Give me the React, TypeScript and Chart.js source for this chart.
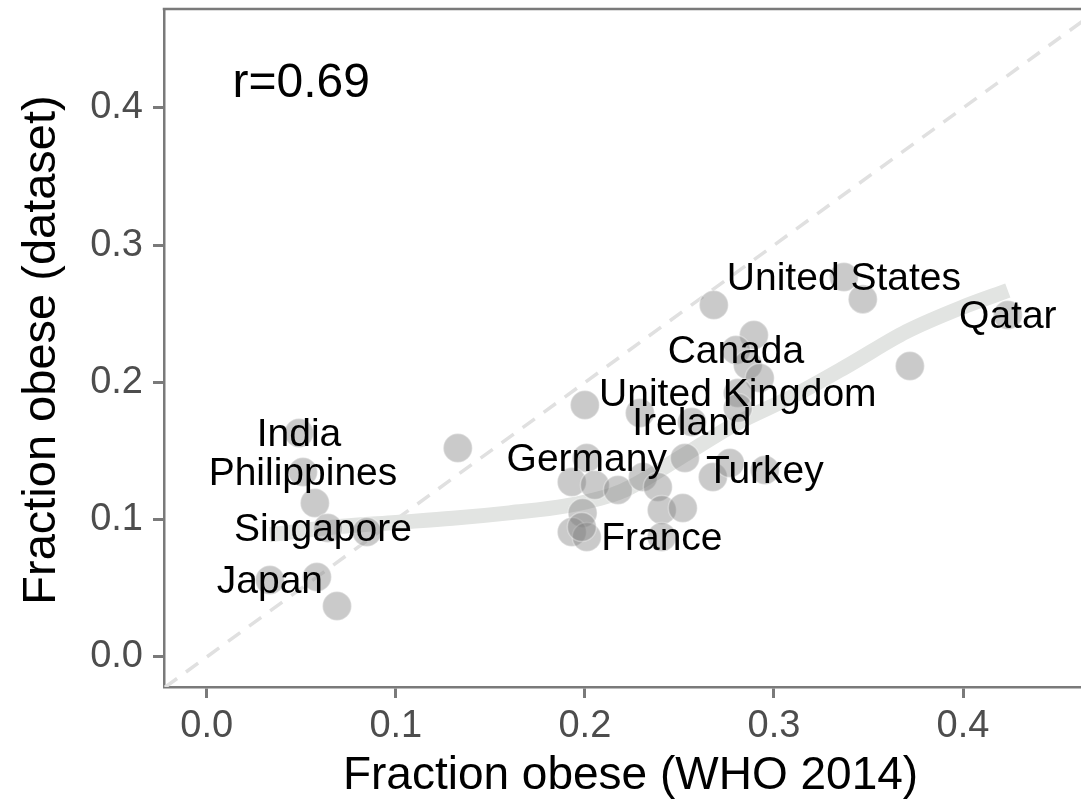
import React, { useEffect, useRef } from "react";
import { Chart, registerables } from "chart.js";

Chart.register(...registerables);

// All countries: WHO 2014 obesity fraction (x) vs dataset obesity fraction (y)
const pointX = [
  0.0488, 0.0509, 0.0572, 0.0641, 0.0847, 0.0334, 0.0583, 0.0689, 0.1328, 0.2,
  0.2682, 0.337, 0.347, 0.4237, 0.2894, 0.2799, 0.2862, 0.2925, 0.2809, 0.2809,
  0.3719, 0.2291, 0.2566, 0.201, 0.1931, 0.2053, 0.2175, 0.2307, 0.2386, 0.2529,
  0.2677, 0.2767, 0.2952, 0.2407, 0.2518, 0.1988, 0.1931, 0.201, 0.1984, 0.2407,
];
const pointY = [
  0.1631, 0.1347, 0.1122, 0.094, 0.091, 0.0561, 0.0583, 0.0371, 0.1522, 0.1835,
  0.2564, 0.2768, 0.2607, 0.2491, 0.2345, 0.2236, 0.2127, 0.2032, 0.1923, 0.1814,
  0.2119, 0.1777, 0.1712, 0.1449, 0.1275, 0.1253, 0.1216, 0.1311, 0.1238, 0.1449,
  0.1311, 0.1413, 0.1362, 0.1071, 0.1085, 0.1049, 0.091, 0.0874, 0.0947, 0.0874,
];

// Labelled countries
const labelNames = [
  "India", "Philippines", "Singapore", "Japan", "Germany", "France", "Turkey",
  "Ireland", "United Kingdom", "Canada", "United States", "Qatar",
];
const labelX = [
  0.0488, 0.0509, 0.0615, 0.0334, 0.201, 0.2407, 0.2952, 0.2566, 0.2809, 0.2799,
  0.337, 0.4237,
];
const labelY = [
  0.1631, 0.1347, 0.094, 0.0561, 0.1449, 0.0874, 0.1362, 0.1712, 0.1923, 0.2236,
  0.2768, 0.2491,
];

// Smoothed (loess) trend
const smoothX = [0.0334, 0.07, 0.1, 0.13, 0.16, 0.19, 0.22, 0.25, 0.28, 0.31, 0.34, 0.37, 0.4, 0.4237];
const smoothY = [0.089, 0.095, 0.098, 0.101, 0.105, 0.11, 0.121, 0.145, 0.17, 0.19, 0.213, 0.237, 0.255, 0.267];

// Identity reference line
const identityX = [-0.1, 0.6];
const identityY = [-0.1, 0.6];

const tickValues = [0, 0.1, 0.2, 0.3, 0.4];
const xRange = [-0.0226, 0.4624];
const yRange = [-0.0219, 0.4721];

const corrText = "r=0.69";
const corrX = 0.05;
const corrY = 0.42;

const xTitle = "Fraction obese (WHO 2014)";
const yTitle = "Fraction obese (dataset)";

const FONT = '"Liberation Sans", Arial, Helvetica, sans-serif';
const AXIS_COLOR = "#7a7a7a";

const overlayPlugin = {
  id: "overlay",
  afterDatasetsDraw(chart: any) {
    const { ctx, scales } = chart;
    ctx.save();
    ctx.fillStyle = "#000";
    ctx.textAlign = "center";
    ctx.textBaseline = "middle";
    ctx.font = `39px ${FONT}`;
    labelNames.forEach((name, i) => {
      ctx.fillText(name, scales.x.getPixelForValue(labelX[i]), scales.y.getPixelForValue(labelY[i]) + 2);
    });
    ctx.font = `48px ${FONT}`;
    ctx.fillText(corrText, scales.x.getPixelForValue(corrX), scales.y.getPixelForValue(corrY) + 3);
    ctx.restore();
  },
  afterDraw(chart: any) {
    const { ctx, chartArea } = chart;
    ctx.save();
    // top panel border
    ctx.strokeStyle = AXIS_COLOR;
    ctx.lineWidth = 2.5;
    ctx.beginPath();
    ctx.moveTo(chartArea.left - 1.25, chartArea.top);
    ctx.lineTo(chartArea.right, chartArea.top);
    ctx.stroke();
    // axis titles
    ctx.fillStyle = "#000";
    ctx.font = `46px ${FONT}`;
    ctx.textAlign = "center";
    ctx.textBaseline = "middle";
    const cx = (chartArea.left + chartArea.right) / 2 + 8;
    ctx.fillText(xTitle, cx, chartArea.bottom + 89);
    ctx.font = `47px ${FONT}`;
    ctx.translate(42, (chartArea.top + chartArea.bottom) / 2 + 2);
    ctx.rotate(-Math.PI / 2);
    ctx.fillText(yTitle, 0, 0);
    ctx.restore();
  },
};

export default function App() {
  const canvasRef = useRef<HTMLCanvasElement | null>(null);

  useEffect(() => {
    document.body.style.margin = "0";
    const canvas = canvasRef.current;
    if (!canvas) return;
    const points = pointX.map((x, i) => ({ x, y: pointY[i] }));
    const smooth = smoothX.map((x, i) => ({ x, y: smoothY[i] }));
    const identity = identityX.map((x, i) => ({ x, y: identityY[i] }));

    const tickFont = { family: FONT, size: 38 };
    const chart = new Chart(canvas, {
      type: "scatter",
      data: {
        datasets: [
          {
            type: "scatter",
            data: points,
            order: 0,
            pointRadius: 14.5,
            pointHoverRadius: 14.5,
            backgroundColor: "rgba(128,128,128,0.42)",
            borderColor: "rgba(255,255,255,0.35)",
            borderWidth: 1.5,
          } as any,
          {
            type: "line",
            data: smooth,
            order: 1,
            showLine: true,
            pointRadius: 0,
            borderColor: "#e2e4e2",
            borderWidth: 15,
            tension: 0.4,
            cubicInterpolationMode: "monotone",
            fill: false,
          } as any,
          {
            type: "line",
            data: identity,
            order: 2,
            showLine: true,
            pointRadius: 0,
            borderColor: "#e0e0e0",
            borderWidth: 3.5,
            borderDash: [15, 11],
            fill: false,
          } as any,
        ],
      },
      options: {
        responsive: false,
        animation: false,
        devicePixelRatio: 1,
        layout: { autoPadding: false, padding: { top: 9, right: 0, left: 0, bottom: 0 } },
        plugins: {
          legend: { display: false },
          tooltip: { enabled: false },
          title: { display: false },
        },
        scales: {
          x: {
            type: "linear",
            min: xRange[0],
            max: xRange[1],
            afterBuildTicks: (scale: any) => {
              scale.ticks = tickValues.map((v) => ({ value: v }));
            },
            afterFit: (scale: any) => {
              scale.height = 117;
              scale.paddingLeft = 0;
              scale.paddingRight = 0;
            },
            ticks: {
              font: tickFont,
              color: "#4d4d4d",
              padding: 6,
              maxRotation: 0,
              autoSkip: false,
              callback: (v: any) => Number(v).toFixed(1),
            },
            grid: {
              drawOnChartArea: false,
              drawTicks: true,
              tickLength: 11,
              tickWidth: 3,
              tickColor: AXIS_COLOR,
            },
            border: { display: true, color: AXIS_COLOR, width: 2.5 },
          },
          y: {
            type: "linear",
            min: yRange[0],
            max: yRange[1],
            afterBuildTicks: (scale: any) => {
              scale.ticks = tickValues.map((v) => ({ value: v }));
            },
            afterFit: (scale: any) => {
              scale.width = 164;
              scale.paddingTop = 0;
              scale.paddingBottom = 0;
            },
            ticks: {
              font: tickFont,
              color: "#4d4d4d",
              padding: 10,
              autoSkip: false,
              callback: (v: any) => Number(v).toFixed(1),
            },
            grid: {
              drawOnChartArea: false,
              drawTicks: true,
              tickLength: 11,
              tickWidth: 3,
              tickColor: AXIS_COLOR,
            },
            border: { display: true, color: AXIS_COLOR, width: 2.5 },
          },
        },
      },
      plugins: [overlayPlugin],
    });
    return () => chart.destroy();
  }, []);

  return (
    <div style={{ position: "fixed", left: 0, top: 0, width: 1081, height: 804, background: "#fff" }}>
      <canvas ref={canvasRef} width={1081} height={804} style={{ display: "block" }} />
    </div>
  );
}
